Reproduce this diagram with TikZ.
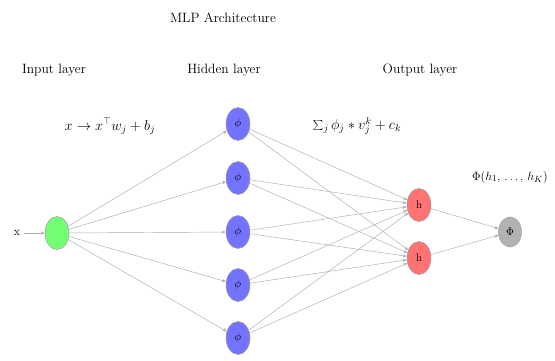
\documentclass[tikz,border=0pt]{standalone}
\usetikzlibrary{shapes.geometric,arrows.meta}
\begin{document}
\begin{tikzpicture}[x=1pt,y=-1pt,
  neuron/.style={ellipse,draw=gray!75,line width=0.5pt,inner sep=0pt,
    minimum width=24pt,minimum height=33pt,font=\fontsize{11}{12}\selectfont},
  inneuron/.style={neuron,fill=green!55!white},
  hidneuron/.style={neuron,fill=blue!55!white},
  outneuron/.style={neuron,fill=red!55!white},
  aggneuron/.style={neuron,fill=gray!60,minimum width=23pt,minimum height=30pt},
  link/.style={draw=gray!65,line width=0.45pt,-{Stealth[length=4pt,width=3pt]}},
  heading/.style={font=\fontsize{13.5}{15}\selectfont},
  formula/.style={font=\fontsize{14}{16}\selectfont}]
\useasboundingbox (0,0) rectangle (555,360);

% titles
\node[heading] (title) at (223,18) {MLP Architecture};
\node[heading] (lin) at (54,70) {Input layer};
\node[heading] (lhid) at (224,70) {Hidden layer};
\node[heading] (lout) at (420,70) {Output layer};

% formulas
\node[formula] (f1) at (110,126) {$x \to x^{\top} w_j + b_j$};
\node[formula] (f2) at (357,126) {$\sum_j \phi_j * v_j^k + c_k$};
\node[formula,font=\fontsize{13}{15}\selectfont] (f3) at (510,177) {$\Phi(h_1,\,\ldots,\,h_K)$};

% neurons
\node[inneuron] (in) at (57,233) {};
\node[font=\fontsize{12}{13}\selectfont] (xin) at (17,233) {x};
\foreach \i/\y in {1/124,2/178,3/232,4/285,5/338}
  \node[hidneuron] (h\i) at (238,\y) {$\phi$};
\node[outneuron] (o1) at (419,205) {h};
\node[outneuron] (o2) at (419,258) {h};
\node[aggneuron] (agg) at (510,232) {$\Phi$};

% connections
\draw[link] (xin) -- (in);
\foreach \i in {1,...,5} {
  \draw[link] (in) -- (h\i);
  \draw[link] (h\i) -- (o1);
  \draw[link] (h\i) -- (o2);
}
\draw[link] (o1) -- (agg);
\draw[link] (o2) -- (agg);
\end{tikzpicture}
\end{document}
